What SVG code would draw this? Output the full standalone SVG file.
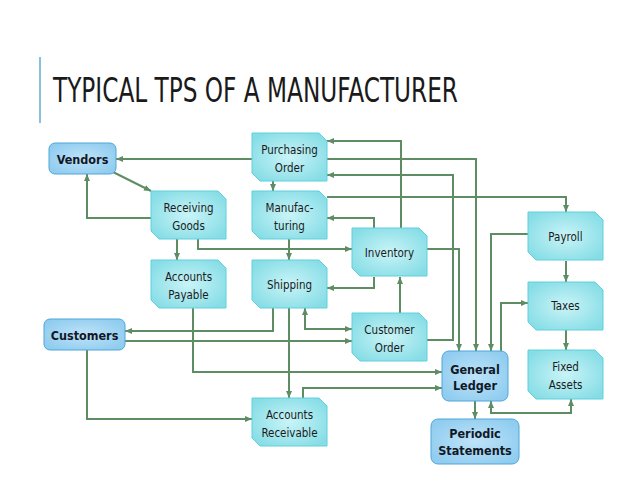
<svg xmlns="http://www.w3.org/2000/svg" width="638" height="479" viewBox="0 0 638 479">
<defs>
<radialGradient id="gt" cx="50%" cy="50%" r="60%">
<stop offset="0" stop-color="#c9f4f7"/>
<stop offset="1" stop-color="#87dde6"/>
</radialGradient>
<radialGradient id="gb" cx="50%" cy="50%" r="60%">
<stop offset="0" stop-color="#bfe3f8"/>
<stop offset="1" stop-color="#8fccef"/>
</radialGradient>
<marker id="ah" viewBox="0 0 7 6" refX="7" refY="3" markerWidth="7" markerHeight="6" markerUnits="userSpaceOnUse" orient="auto-start-reverse">
<path d="M0,0 L7,3 L0,6 Z" fill="#5e8c63"/>
</marker>
</defs>
<style>
.t{fill:url(#gt);stroke:#5fd0dc;stroke-width:1}
.b{fill:url(#gb);stroke:#4ea6da;stroke-width:1}
.l{font-family:"DejaVu Sans Condensed","DejaVu Sans",sans-serif;font-size:11.5px;fill:#1b1b1b;text-anchor:middle}
.bl{font-family:"DejaVu Sans Condensed","DejaVu Sans",sans-serif;font-size:12.5px;font-weight:bold;fill:#111827;text-anchor:middle}
.c{fill:none;stroke:#5e8c63;stroke-width:2;marker-end:url(#ah)}
.d{marker-start:url(#ah)}
</style>
<rect width="638" height="479" fill="#ffffff"/>
<rect x="39" y="57" width="2" height="66" fill="#86c3da"/>
<text x="53" y="102" font-family="DejaVu Sans Condensed,DejaVu Sans,sans-serif" font-size="33" fill="#1a1a1a" textLength="405" lengthAdjust="spacingAndGlyphs">TYPICAL TPS OF A MANUFACTURER</text>

<g id="connectors">
<polyline class="c" points="252,159 116,159"/>
<polyline class="c" points="113,172 151,191"/>
<polyline class="c" points="151,218 87,218 87,174"/>
<polyline class="c" points="273,181 273,191"/>
<polyline class="c" points="177,239 177,260"/>
<polyline class="c" points="198,239 198,249 352,249"/>
<polyline class="c" points="289,239 289,260"/>
<polyline class="c" points="401,228 401,141 327,141"/>
<polyline class="c" points="327,159 476,159 476,351"/>
<polyline class="c" points="427,340 453,340 453,175 327,175"/>
<polyline class="c" points="327,197 566,197 566,212"/>
<polyline class="c" points="374,228 374,218 327,218"/>
<polyline class="c" points="374,277 374,288 327,288"/>
<polyline class="c" points="400,313 400,277"/>
<polyline class="c" points="427,249 459,249 459,351"/>
<polyline class="c" points="528,234 491,234 491,351"/>
<polyline class="c" points="501,351 501,303 528,303"/>
<polyline class="c" points="566,261 566,282"/>
<polyline class="c" points="566,330 566,350"/>
<polyline class="c d" points="491,401 491,413 571,413 571,399"/>
<polyline class="c" points="475,401 475,419"/>
<polyline class="c" points="273,308 273,331 125,331"/>
<polyline class="c" points="125,341 352,341"/>
<polyline class="c d" points="305,308 305,329 352,329"/>
<polyline class="c" points="193,308 193,372 442,372"/>
<polyline class="c" points="289,308 289,398"/>
<polyline class="c" points="303,398 303,388 442,388"/>
<polyline class="c" points="87,350 87,419 252,419"/>
</g>

<g id="vendors">
<rect class="b" x="49" y="143" width="67" height="31" rx="6"/>
<text class="bl" x="82.5" y="163.5">Vendors</text>
</g>
<g id="customers">
<rect class="b" x="44" y="319" width="81" height="31" rx="6"/>
<text class="bl" x="84.5" y="339.5">Customers</text>
</g>
<g id="purchasing-order">
<path class="t" d="M252,133 H319 L327,141 V181 H260 L252,173 Z"/>
<text class="l" x="289.5" y="154">Purchasing</text>
<text class="l" x="289.5" y="172">Order</text>
</g>
<g id="receiving-goods">
<path class="t" d="M151,191 H218 L226,199 V239 H159 L151,231 Z"/>
<text class="l" x="188.5" y="212">Receiving</text>
<text class="l" x="188.5" y="230">Goods</text>
</g>
<g id="manufacturing">
<path class="t" d="M252,191 H319 L327,199 V239 H260 L252,231 Z"/>
<text class="l" x="289.5" y="212">Manufac-</text>
<text class="l" x="289.5" y="230">turing</text>
</g>
<g id="accounts-payable">
<path class="t" d="M151,260 H218 L226,268 V308 H159 L151,300 Z"/>
<text class="l" x="188.5" y="281">Accounts</text>
<text class="l" x="188.5" y="299">Payable</text>
</g>
<g id="shipping">
<path class="t" d="M252,260 H319 L327,268 V308 H260 L252,300 Z"/>
<text class="l" x="289.5" y="289">Shipping</text>
</g>
<g id="inventory">
<path class="t" d="M352,228 H419 L427,236 V276 H360 L352,268 Z"/>
<text class="l" x="389.5" y="257">Inventory</text>
</g>
<g id="customer-order">
<path class="t" d="M352,313 H419 L427,321 V361 H360 L352,353 Z"/>
<text class="l" x="389.5" y="334">Customer</text>
<text class="l" x="389.5" y="352">Order</text>
</g>
<g id="accounts-receivable">
<path class="t" d="M252,398 H319 L327,406 V446 H260 L252,438 Z"/>
<text class="l" x="289.5" y="419">Accounts</text>
<text class="l" x="289.5" y="437">Receivable</text>
</g>
<g id="payroll">
<path class="t" d="M528,212 H595 L603,220 V260 H536 L528,252 Z"/>
<text class="l" x="565.5" y="241">Payroll</text>
</g>
<g id="taxes">
<path class="t" d="M528,282 H595 L603,290 V330 H536 L528,322 Z"/>
<text class="l" x="565.5" y="310">Taxes</text>
</g>
<g id="fixed-assets">
<path class="t" d="M528,350 H595 L603,358 V399 H536 L528,391 Z"/>
<text class="l" x="565.5" y="371">Fixed</text>
<text class="l" x="565.5" y="389">Assets</text>
</g>
<g id="general-ledger">
<rect class="b" x="442" y="351" width="66" height="50" rx="7"/>
<text class="bl" x="475" y="373.5">General</text>
<text class="bl" x="475" y="390">Ledger</text>
</g>
<g id="periodic-statements">
<rect class="b" x="431" y="419" width="88" height="45" rx="7"/>
<text class="bl" x="475" y="438">Periodic</text>
<text class="bl" x="475" y="455">Statements</text>
</g>
</svg>
